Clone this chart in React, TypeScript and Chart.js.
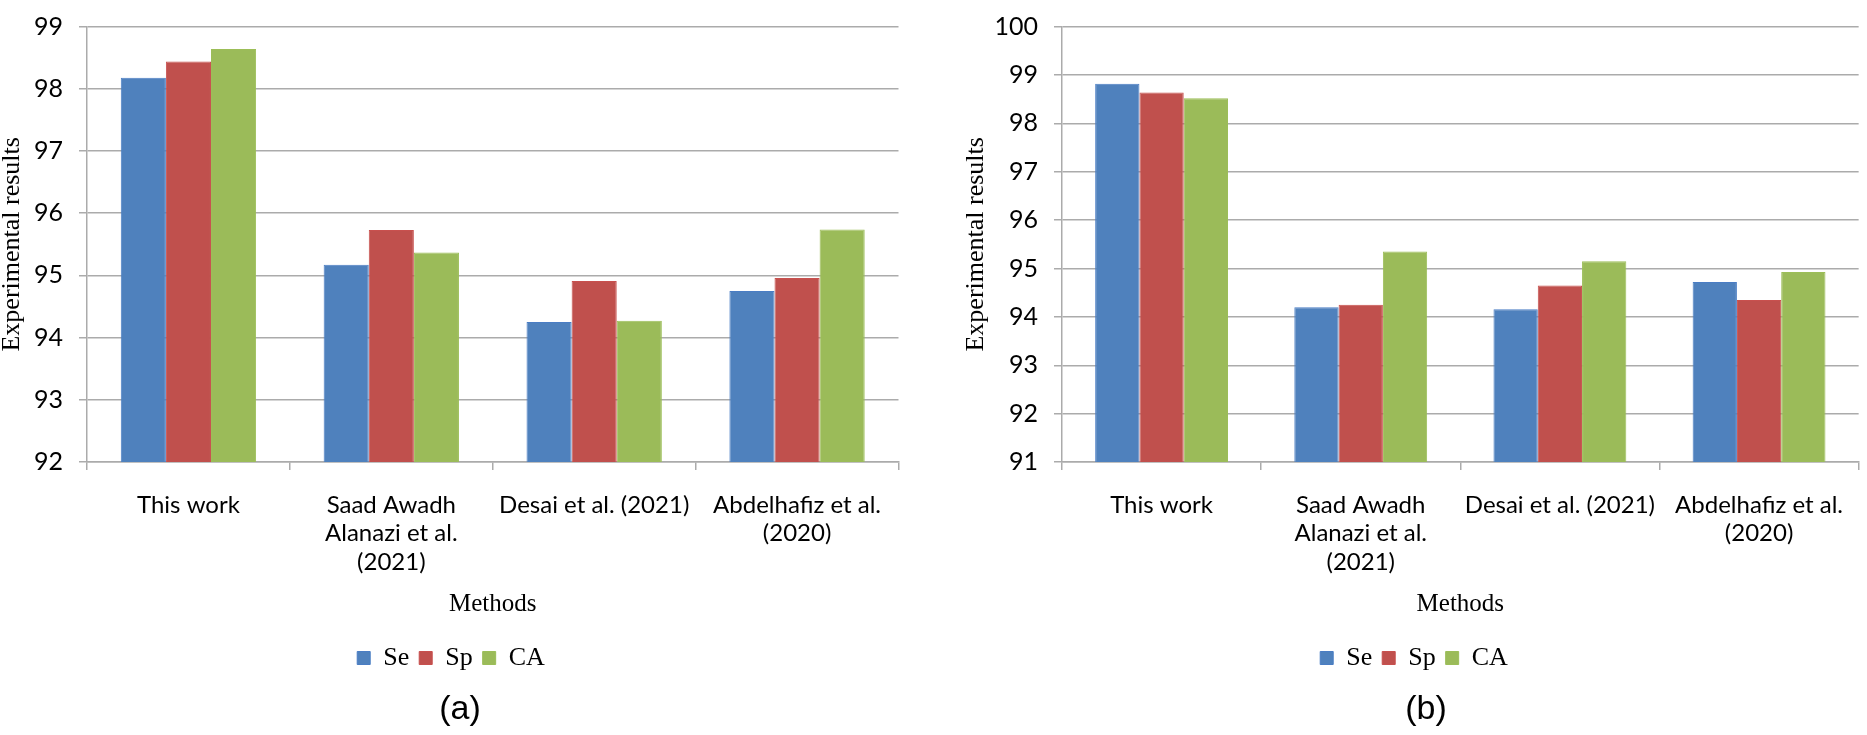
import React, { useEffect, useRef } from "react";
import { Chart, registerables } from "chart.js";

Chart.register(...registerables);

// ---- data ----
const categories: string[][] = [
  ["This work"],
  ["Saad Awadh", "Alanazi et al.", "(2021)"],
  ["Desai et al. (2021)"],
  ["Abdelhafiz et al.", "(2020)"],
];
const seriesNames = ["Se", "Sp", "CA"];
const seriesColors = ["#4F81BD", "#C0504D", "#9BBB59"];
const seriesBorders = ["#4A7DC4", "#C8504E", "#9CBE58"];

const seA = [98.18, 95.17, 94.25, 94.75];
const spA = [98.44, 95.73, 94.91, 94.96];
const caA = [98.64, 95.37, 94.27, 95.74];

const seB = [98.82, 94.2, 94.16, 94.72];
const spB = [98.64, 94.25, 94.65, 94.35];
const caB = [98.52, 95.35, 95.15, 94.93];

const yRangeA = [92, 99];
const yRangeB = [91, 100];

const xTitle = "Methods";
const yTitle = "Experimental results";
const panelLabels = ["(a)", "(b)"];

const SERIF = '"Liberation Serif", "Times New Roman", serif';
const SANS = 'Lato, "Noto Sans", sans-serif';
const GRID = "#ABABAB";

function makeConfig(values: number[][], yRange: number[], yAxisWidth: number): any {
  return {
    type: "bar",
    data: {
      labels: categories,
      datasets: values.map((v, i) => ({
        label: seriesNames[i],
        data: v,
        backgroundColor: seriesColors[i],
        borderColor: seriesBorders[i],
        borderWidth: 1,
        barPercentage: 1,
        categoryPercentage: 0.667,
      })),
    },
    options: {
      animation: false,
      responsive: false,
      maintainAspectRatio: false,
      layout: { padding: { top: 10.7, bottom: 54, left: 0, right: 0 } },
      plugins: {
        legend: {
          position: "bottom",
          labels: {
            boxWidth: 13,
            boxHeight: 13,
            padding: 10,
            color: "#000",
            font: { family: SERIF, size: 26 },
          },
        },
        tooltip: { enabled: false },
      },
      scales: {
        x: {
          grid: {
            drawOnChartArea: false,
            offset: true,
            tickLength: 8,
            color: GRID,
            lineWidth: 1.5,
          },
          border: { color: GRID, width: 1.5 },
          ticks: {
            color: "#000",
            font: { family: SANS, size: 24, lineHeight: 1.18 },
            padding: 21,
            maxRotation: 0,
            minRotation: 0,
            autoSkip: false,
          },
          title: {
            display: true,
            text: xTitle,
            color: "#000",
            font: { family: SERIF, size: 25, lineHeight: 1.2 },
            padding: { top: 0, bottom: 16 },
          },
          afterFit: (s: any) => {
            s.height = 173;
          },
        },
        y: {
          min: yRange[0],
          max: yRange[1],
          ticks: {
            stepSize: 1,
            color: "#000",
            font: { family: SANS, size: 25, lineHeight: 0.85 },
            padding: 16,
          },
          grid: { color: GRID, lineWidth: 1.5, tickLength: 8 },
          border: { color: GRID, width: 1.5 },
          title: {
            display: true,
            text: yTitle,
            color: "#000",
            font: { family: SERIF, size: 26, lineHeight: 0.9 },
            padding: { top: 0, bottom: 0 },
          },
          afterFit: (s: any) => {
            s.width = yAxisWidth;
          },
        },
      },
    },
  };
}

function BarPanel(props: {
  values: number[][];
  yRange: number[];
  left: number;
  width: number;
  yAxisWidth: number;
}) {
  const ref = useRef<HTMLCanvasElement | null>(null);
  useEffect(() => {
    if (!ref.current) return;
    const chart = new Chart(ref.current, makeConfig(props.values, props.yRange, props.yAxisWidth));
    return () => chart.destroy();
  }, []);
  return (
    <canvas
      ref={ref}
      width={props.width}
      height={735}
      style={{ position: "absolute", left: props.left, top: 0, width: props.width, height: 735 }}
    />
  );
}

export default function App() {
  const labelStyle = (cx: number): React.CSSProperties => ({
    position: "absolute",
    left: cx - 60,
    width: 120,
    top: 690,
    textAlign: "center",
    fontFamily: '"Liberation Sans", Arial, sans-serif',
    fontSize: 34,
    lineHeight: "34px",
    color: "#000",
  });
  return (
    <div
      style={{
        position: "absolute",
        left: 0,
        top: 0,
        width: 1867,
        height: 735,
        background: "#fff",
        overflow: "hidden",
      }}
    >
      <BarPanel values={[seA, spA, caA]} yRange={yRangeA} left={0} width={902} yAxisWidth={87} />
      <BarPanel values={[seB, spB, caB]} yRange={yRangeB} left={964} width={900} yAxisWidth={98} />
      <div style={labelStyle(460)}>{panelLabels[0]}</div>
      <div style={labelStyle(1426)}>{panelLabels[1]}</div>
    </div>
  );
}
